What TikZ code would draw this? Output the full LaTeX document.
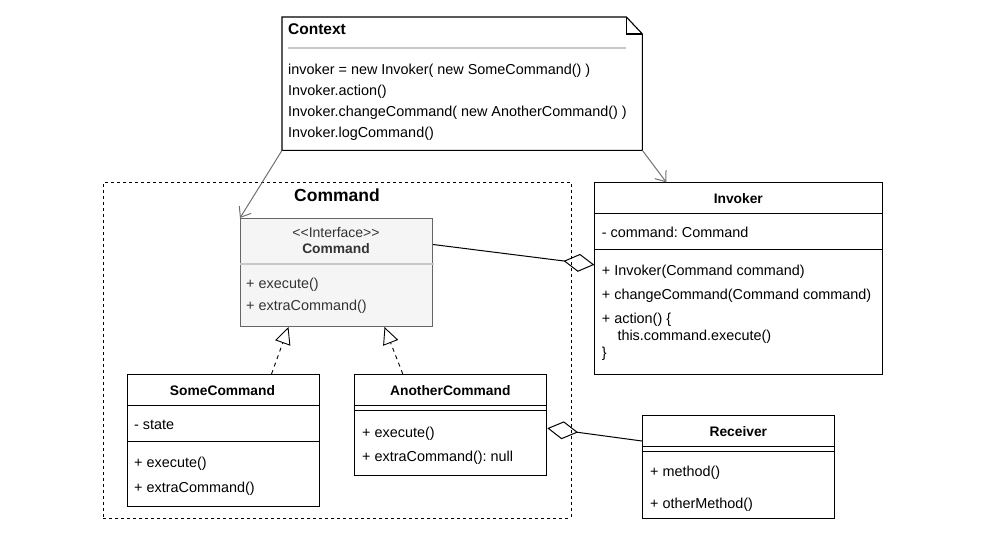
\documentclass[tikz,border=0pt]{standalone}
\usepackage{fontspec}
\setmainfont{Liberation Sans}
\usetikzlibrary{arrows.meta}
\definecolor{ifill}{HTML}{F5F5F5}
\definecolor{istroke}{HTML}{666666}
\definecolor{itext}{HTML}{333333}
\definecolor{sepgray}{HTML}{C8C8C8}
\definecolor{arrgray}{HTML}{707070}
\frenchspacing
\begin{document}
\begin{tikzpicture}[x=1pt,y=-1pt,
  txt/.style={anchor=base west, inner sep=0pt, font=\fontsize{14.4}{16}\selectfont},
  ttl/.style={anchor=base, inner sep=0pt, font=\fontsize{13.8}{16}\selectfont\bfseries},
  cls/.style={draw, line width=1pt, fill=white, anchor=north west, inner sep=0pt},
  cline/.style={line width=1pt},
  realize/.style={dashed, dash pattern=on 4pt off 4pt, line width=0.9pt, -{Triangle[open, length=17pt, width=16pt, line width=0.9pt]}},
  agg/.style={line width=1pt, {Diamond[open, length=31pt, width=18pt, line width=1pt]}-},
  dep/.style={draw=arrgray, line width=1pt, -{Straight Barb[length=9pt, width=14pt, line width=1pt]}}
]
\useasboundingbox (0,0) rectangle (1000,540);

% package
\node[draw, dash pattern=on 3pt off 3pt, line width=0.9pt, anchor=north west, inner sep=0pt,
  minimum width=467.5pt, minimum height=335.5pt] (pkg) at (103,182) {};
\node[anchor=base, inner sep=0pt, font=\fontsize{17.5}{20}\selectfont\bfseries] (pkgt) at (337,201) {Command};

% Context note
\node[anchor=north west, inner sep=0pt, minimum width=360pt, minimum height=133pt] (ctx) at (282,17) {};
\draw[line width=1.1pt, fill=white] (ctx.north west) -- ([xshift=-16pt]ctx.north east)
  -- ([yshift=-17pt]ctx.north east) -- (ctx.south east) -- (ctx.south west) -- cycle;
\draw[line width=1.1pt] ([xshift=-16pt]ctx.north east) -- ++(0,17) -- ([yshift=-17pt]ctx.north east);
\draw[sepgray, line width=2pt] (288,48.3) -- (626,48.3);
\node[anchor=base west, inner sep=0pt, font=\fontsize{15.5}{18}\selectfont\bfseries] (ctxt) at (288,35) {Context};
\node[txt] (c1) at (288,75) {invoker = new Invoker( new SomeCommand() )};
\node[txt] (c2) at (288,96) {Invoker.action()};
\node[txt] (c3) at (288,117) {Invoker.changeCommand( new AnotherCommand() )};
\node[txt] (c4) at (288,138) {Invoker.logCommand()};

% Command interface
\node[cls, draw=istroke, fill=ifill, minimum width=192pt, minimum height=108pt] (cmdI) at (240,218) {};
\draw[sepgray, line width=2pt] (cmdI.west |- 0,264) -- ([xshift=1pt]cmdI.east |- 0,264);
\node[anchor=base, inner sep=0pt, font=\fontsize{14}{16}\selectfont, text=itext] (ster) at (336,237) {<{}<Interface>{}>};
\node[ttl, text=itext] (cmdIt) at (336,253) {Command};
\node[txt, text=itext] (ci1) at (246,288) {+ execute()};
\node[txt, text=itext] (ci2) at (246,310) {+ extraCommand()};

% SomeCommand
\node[cls, minimum width=192pt, minimum height=132pt] (some) at (126.5,374) {};
\draw[cline] (some.west |- 0,405.3) -- (some.east |- 0,405.3);
\draw[cline] (some.west |- 0,441) -- (some.east |- 0,441);
\node[ttl] (somet) at (222.5,395) {SomeCommand};
\node[txt] (s1) at (134,429) {- state};
\node[txt] (s2) at (134,467) {+ execute()};
\node[txt] (s3) at (134,492) {+ extraCommand()};

% AnotherCommand
\node[cls, minimum width=192pt, minimum height=101pt] (another) at (354.3,374) {};
\draw[cline] (another.west |- 0,405.3) -- (another.east |- 0,405.3);
\draw[cline] (another.west |- 0,410.3) -- (another.east |- 0,410.3);
\node[ttl] (anothert) at (450.3,395) {AnotherCommand};
\node[txt] (a1) at (362,437) {+ execute()};
\node[txt] (a2) at (362,461) {+ extraCommand(): null};

% Invoker
\node[cls, minimum width=288pt, minimum height=192pt] (inv) at (594.3,182.3) {};
\draw[cline] (inv.west |- 0,213.3) -- (inv.east |- 0,213.3);
\draw[cline] (inv.west |- 0,249.3) -- (inv.east |- 0,249.3);
\node[ttl] (invt) at (738.3,203.3) {Invoker};
\node[txt] (i1) at (601.7,237.7) {- command: Command};
\node[txt] (i2) at (601.7,275.7) {+ Invoker(Command command)};
\node[txt] (i3) at (601.7,299.3) {+ changeCommand(Command command)};
\node[txt] (i4) at (601.7,323.3) {+ action() \{};
\node[txt] (i5) at (617.3,340.7) {this.command.execute()};
\node[txt] (i6) at (601.7,357) {\}};

% Receiver
\node[cls, minimum width=192pt, minimum height=102.7pt] (recv) at (642.3,415) {};
\draw[cline] (recv.west |- 0,446) -- (recv.east |- 0,446);
\draw[cline] (recv.west |- 0,451) -- (recv.east |- 0,451);
\node[ttl] (recvt) at (738.3,436) {Receiver};
\node[txt] (r1) at (650,476.7) {+ method()};
\node[txt] (r2) at (650,508.3) {+ otherMethod()};

% connectors
\draw[dep] (ctx.south west) -- (cmdI.north west);
\draw[dep] (ctx.south east) -- ([xshift=-72.5pt]inv.north);
\draw[realize] ([xshift=48.5pt]some.north) -- ([xshift=-48pt]cmdI.south);
\draw[realize] ([xshift=-48pt]another.north) -- ([xshift=48pt]cmdI.south);
\draw[agg] ([yshift=14pt]inv.west) -- ([yshift=28pt]cmdI.east);
\draw[agg] ([yshift=-3.2pt]another.east) -- ([yshift=25.8pt]recv.west);
\end{tikzpicture}
\end{document}
